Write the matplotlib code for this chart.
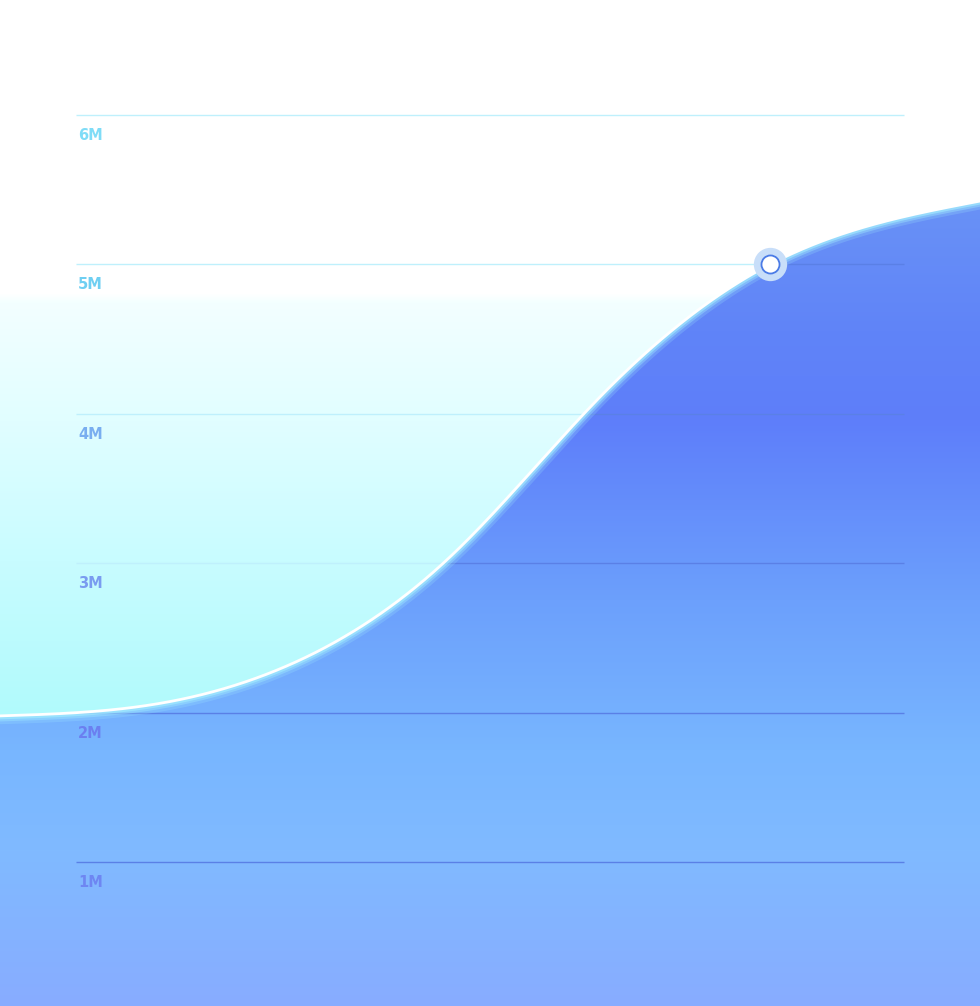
import numpy as np
import matplotlib
matplotlib.use("Agg")
import matplotlib.pyplot as plt
from matplotlib.patches import Polygon

# ---------------- data ----------------
x_pos = [0, 150, 300, 450, 600, 770, 980]
values_m = [1.978, 2.051, 2.352, 3.042, 4.113, 5.000, 5.424]
highlight_index = 5
tick_values = [1, 2, 3, 4, 5, 6]
tick_labels = ["1M", "2M", "3M", "4M", "5M", "6M"]
tick_colors = ["#6e86f2", "#6b7ff0", "#7a9cf0", "#79aef0", "#6fcff2", "#7fdcf7"]

# ---------------- helpers ----------------
def natural_spline(x, y, xs):
    x = np.asarray(x, float); y = np.asarray(y, float)
    n = len(x); h = np.diff(x)
    A = np.zeros((n, n)); b = np.zeros(n)
    A[0, 0] = 1; A[-1, -1] = 1
    for i in range(1, n - 1):
        A[i, i - 1] = h[i - 1]; A[i, i] = 2 * (h[i - 1] + h[i]); A[i, i + 1] = h[i]
        b[i] = 6 * ((y[i + 1] - y[i]) / h[i] - (y[i] - y[i - 1]) / h[i - 1])
    M = np.linalg.solve(A, b)
    idx = np.clip(np.searchsorted(x, xs) - 1, 0, n - 2)
    xi, xi1, hi = x[idx], x[idx + 1], h[idx]
    return (M[idx] * (xi1 - xs) ** 3 / (6 * hi) + M[idx + 1] * (xs - xi) ** 3 / (6 * hi)
            + (y[idx] / hi - M[idx] * hi / 6) * (xi1 - xs)
            + (y[idx + 1] / hi - M[idx + 1] * hi / 6) * (xs - xi))

W, H = 980, 1006
px_per_m = 149.4
zero_px = 1011.4
ylo = (zero_px - H) / px_per_m
yhi = zero_px / px_per_m

def grad_image(stops):
    rows = np.arange(H)
    pos = [s[0] for s in stops]
    img = np.zeros((H, 1, 3))
    for c in range(3):
        img[:, 0, c] = np.interp(rows, pos, [s[1][c] / 255 for s in stops])
    return img

fig = plt.figure(figsize=(W / 100, H / 100), dpi=100)
ax = fig.add_axes([0, 0, 1, 1])
ax.set_xlim(0, W)
ax.set_ylim(ylo, yhi)
ax.axis("off")

xs = np.linspace(x_pos[0], x_pos[-1], 1000)
ys = natural_spline(x_pos, values_m, xs)

below = np.vstack([np.column_stack([xs, ys]), [[W, ylo - 1], [0, ylo - 1]]])
above = np.vstack([np.column_stack([xs, ys]), [[W, yhi + 1], [0, yhi + 1]]])
below_poly = Polygon(below, closed=True, transform=ax.transData, facecolor="none", edgecolor="none")
above_poly = Polygon(above, closed=True, transform=ax.transData, facecolor="none", edgecolor="none")
ax.add_patch(below_poly)
ax.add_patch(above_poly)

top_stops = [(0, (255, 255, 255)), (293, (255, 255, 255)), (302, (243, 255, 255)),
             (420, (225, 254, 255)), (560, (200, 252, 255)), (720, (176, 250, 252)),
             (1006, (170, 250, 250))]
blue_stops = [(0, (108, 150, 245)), (200, (105, 146, 246)), (330, (96, 132, 248)),
              (420, (94, 126, 250)), (600, (108, 160, 252)), (750, (120, 182, 255)),
              (850, (128, 186, 255)), (1006, (136, 172, 255))]

ax.imshow(grad_image(top_stops), extent=(0, W, ylo, yhi), aspect="auto", origin="upper", zorder=0)
blue_im = ax.imshow(grad_image(blue_stops), extent=(0, W, ylo, yhi), aspect="auto", origin="upper", zorder=1)
blue_im.set_clip_path(below_poly)

# grid lines
for v in tick_values:
    l1, = ax.plot([76, 904], [v, v], color="#bff0fc", lw=1.0, zorder=2, solid_capstyle="butt")
    l1.set_clip_path(above_poly)
    l2, = ax.plot([76, 904], [v, v], color="#5a80e6", lw=1.0, zorder=2, solid_capstyle="butt")
    l2.set_clip_path(below_poly)

# tick labels
for v, lab, col in zip(tick_values, tick_labels, tick_colors):
    ax.annotate(lab, xy=(78, v), xytext=(0, -18), textcoords="offset points",
                ha="left", va="baseline", color=col, fontsize=10.5,
                fontweight="bold", family="DejaVu Sans", zorder=3)

# glow along the curve (lower side)
for lw, a in [(12, 0.2), (8, 0.35), (5, 0.55)]:
    g, = ax.plot(xs, ys, color="#a6f2ff", lw=lw, alpha=a, zorder=4, solid_capstyle="round")
    g.set_clip_path(below_poly)
ax.plot(xs, ys, color="white", lw=2.0, zorder=5)

# highlight marker
hx, hy = x_pos[highlight_index], values_m[highlight_index]
ax.plot([hx], [hy], marker="o", ms=24, color="#c8def9", mec="none", zorder=6)
ax.plot([hx], [hy], marker="o", ms=13, color="white", mec="#4a7be6", mew=1.3, zorder=7)

fig.savefig("out.png", dpi=100)
